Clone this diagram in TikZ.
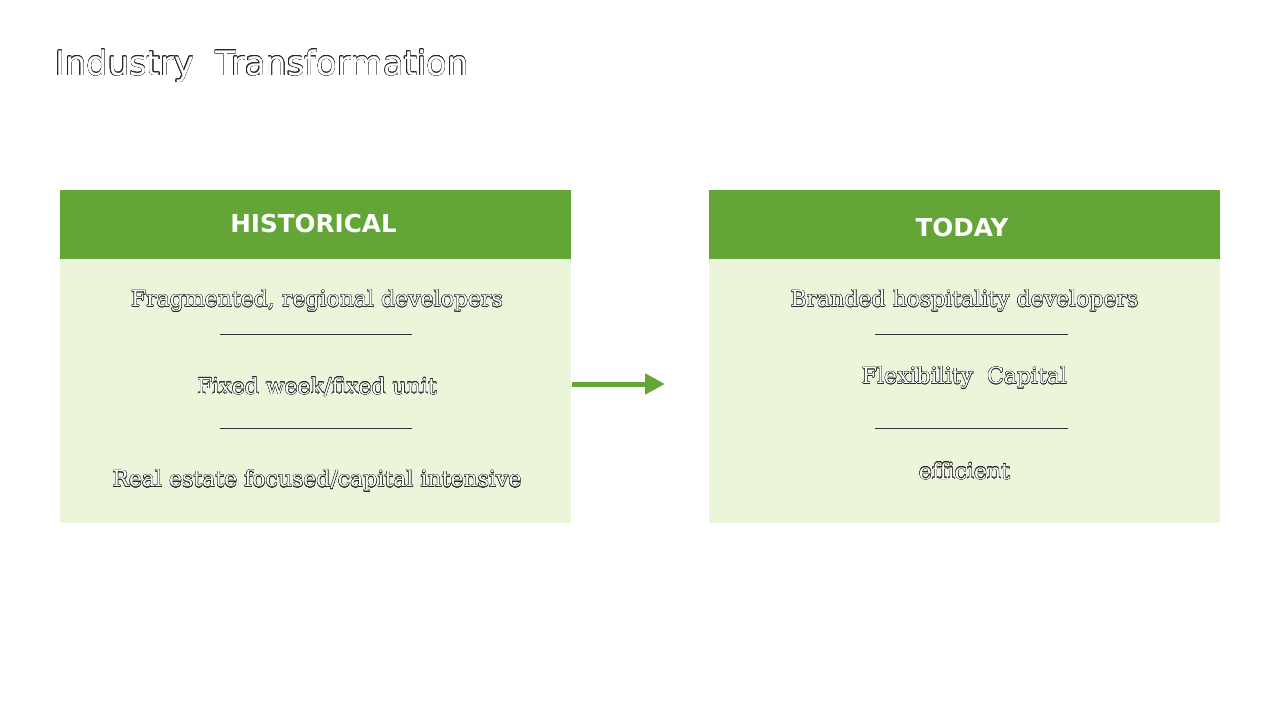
\documentclass[tikz,border=0pt]{standalone}
\usepackage{fontspec}
\setmainfont{DejaVu Serif}
\newfontfamily\headfont{DejaVu Sans}
\newfontfamily\titlefont{DejaVu Sans}
\usepackage{xcolor}
\usepackage{contour}
\contourlength{0.25pt}
\usetikzlibrary{arrows.meta,positioning}
\definecolor{leafgreen}{HTML}{63A537}
\definecolor{palegreen}{HTML}{EBF5D9}
\newcommand{\outl}[1]{\contour{black!85}{#1}}

\begin{document}
\begin{tikzpicture}[x=0.75pt,y=-0.75pt,
 headbar/.style={fill=leafgreen,minimum width=383.25pt,minimum height=51.75pt,inner sep=0,anchor=north west},
 headtext/.style={text=white,font=\headfont\bfseries\fontsize{18.5}{22}\selectfont,inner sep=0},
 bodybox/.style={fill=palegreen,minimum width=383.25pt,minimum height=198pt,inner sep=0,anchor=north west},
 item/.style={text=white,font=\fontsize{16.5}{20}\selectfont,inner sep=0},
 divider/.style={draw=black!80,line width=0.75pt}]
\useasboundingbox(0,0)rectangle(1280,720);
\node[anchor=west,text=white,font=\titlefont\fontsize{25.3}{30}\selectfont,inner sep=0] (title) at (55,66) {\outl{Industry\ \ Transformation}};
% historical
\node[headbar] (histhead) at (60,190) {};
\node[bodybox] (histbody) at (60,259) {};
\node[headtext] (histlabel) at (313.5,224) {HISTORICAL};
\node[item] (hist1) at (317,301) {\outl{Fragmented, regional developers}};
\node[item] (hist2) at (317,387) {\outl{Fixed week/fixed unit}};
\node[item] (hist3) at (317,481) {\outl{Real estate focused/capital intensive}};
\coordinate (ha1) at (220,334); \coordinate (hb1) at (412,334);
\coordinate (ha2) at (220,428); \coordinate (hb2) at (412,428);
\draw[divider] (ha1)--(hb1) (ha2)--(hb2);
% today
\node[headbar] (todayhead) at (709,190) {};
\node[bodybox] (todaybody) at (709,259) {};
\node[headtext] (todaylabel) at (962,228) {TODAY};
\node[item] (today1) at (964.5,301) {\outl{Branded hospitality developers}};
\node[item] (today2) at (964.5,378) {\outl{Flexibility\ \ Capital}};
\node[item] (today3) at (964.5,471) {\outl{efficient}};
\coordinate (ta1) at (875,334); \coordinate (tb1) at (1068,334);
\coordinate (ta2) at (875,428); \coordinate (tb2) at (1068,428);
\draw[divider] (ta1)--(tb1) (ta2)--(tb2);
% arrow
\coordinate (arrowstart) at (histbody.east|-0,384);
\coordinate (arrowend) at (665,384);
\draw[leafgreen,line width=3.75pt,-{Triangle[length=15pt,width=15pt]}] (arrowstart)--(arrowend);
\end{tikzpicture}
\end{document}
